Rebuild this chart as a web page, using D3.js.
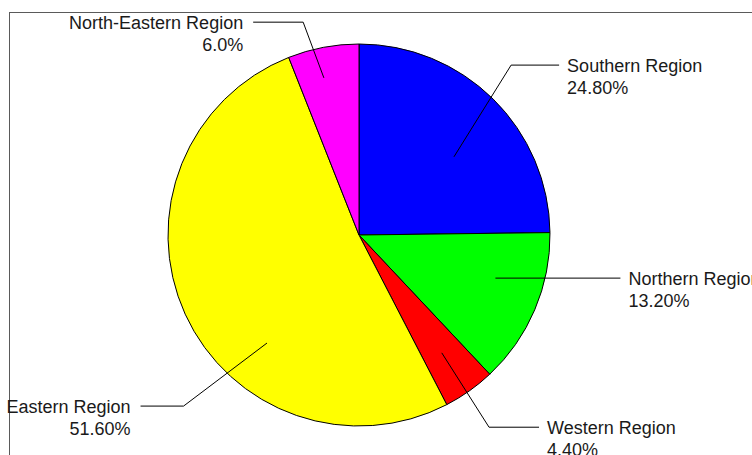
<!DOCTYPE html>
<html>
<head>
<meta charset="utf-8">
<script src="https://cdn.jsdelivr.net/npm/d3@7/dist/d3.min.js"></script>
<style>
  html, body { margin: 0; padding: 0; background: #fff; }
  svg { display: block; }
</style>
</head>
<body>
<svg id="chart" width="752" height="455"></svg>
<script>
// ---- data ----
const categories = ["Southern Region", "Northern Region", "Western Region", "Eastern Region", "North-Eastern Region"];
const values = [24.8, 13.2, 4.4, 51.6, 6.0];
const valueLabels = ["24.80%", "13.20%", "4.40%", "51.60%", "6.0%"];
const colors = ["#0000ff", "#00ff00", "#ff0000", "#ffff00", "#ff00ff"];

// ---- label leader layout (angle shifts in degrees from slice mid-angle, radius fractions) ----
const leaderInnerShift = [5.9, -5.5, 0.2, -25.1, -1.8];
const leaderInnerK = [0.644, 0.749, 0.754, 0.743, 0.843];
const leaderElbowShift = [-2.8, -5.5, 1.2, -19.8, -3.9];
const leaderElbowK = [1.194, 0.749, 1.215, 1.283, 1.152];
const leaderTail = [48, 125, 50, -43, -50];

const W = 752, H = 455;
const cx = 359, cy = 235, r = 191;

const svg = d3.select("#chart");

// frame
svg.append("rect")
  .attr("x", 9.5).attr("y", 12.5)
  .attr("width", 900).attr("height", 600)
  .attr("fill", "none").attr("stroke", "#5a5a5a").attr("stroke-width", 1);

const data = categories.map((c, i) => ({ name: c, value: values[i], label: valueLabels[i], color: colors[i], i }));

const pie = d3.pie().value(d => d.value).sort(null);
const arcs = pie(data);
const arc = d3.arc().innerRadius(0).outerRadius(r);

const g = svg.append("g").attr("transform", `translate(${cx},${cy})`);

g.selectAll("path.slice")
  .data(arcs)
  .join("path")
  .attr("class", "slice")
  .attr("d", arc)
  .attr("fill", d => d.data.color)
  .attr("stroke", "#000")
  .attr("stroke-width", 1)
  .attr("stroke-linejoin", "round");

const rad = deg => deg * Math.PI / 180;
function polar(angleRad, dist) {
  return [Math.sin(angleRad) * dist, -Math.cos(angleRad) * dist];
}

const labels = svg.append("g").attr("transform", `translate(${cx},${cy})`);

arcs.forEach((a, i) => {
  const mid = (a.startAngle + a.endAngle) / 2;
  const p0 = polar(mid + rad(leaderInnerShift[i]), r * leaderInnerK[i]);
  const p1 = polar(mid + rad(leaderElbowShift[i]), r * leaderElbowK[i]);
  if (Math.abs(leaderElbowK[i] - leaderInnerK[i]) < 1e-6) { p1[0] = p0[0]; p1[1] = p0[1]; }
  const p2 = [p1[0] + leaderTail[i], p1[1]];
  labels.append("path")
    .attr("d", d3.line()([p0, p1, p2]))
    .attr("fill", "none")
    .attr("stroke", "#000")
    .attr("stroke-width", 1);
  const right = leaderTail[i] > 0;
  const tx = p2[0] + (right ? 8 : -10);
  const t = labels.append("text")
    .attr("x", tx)
    .attr("y", p2[1] + 7)
    .attr("text-anchor", right ? "start" : "end")
    .attr("font-family", "'Liberation Sans', Arial, sans-serif")
    .attr("font-size", 18)
    .attr("fill", "#1a1a1a");
  t.append("tspan").attr("x", tx).text(a.data.name);
  t.append("tspan").attr("x", tx).attr("dy", 22).text(a.data.label);
});
</script>
</body>
</html>
